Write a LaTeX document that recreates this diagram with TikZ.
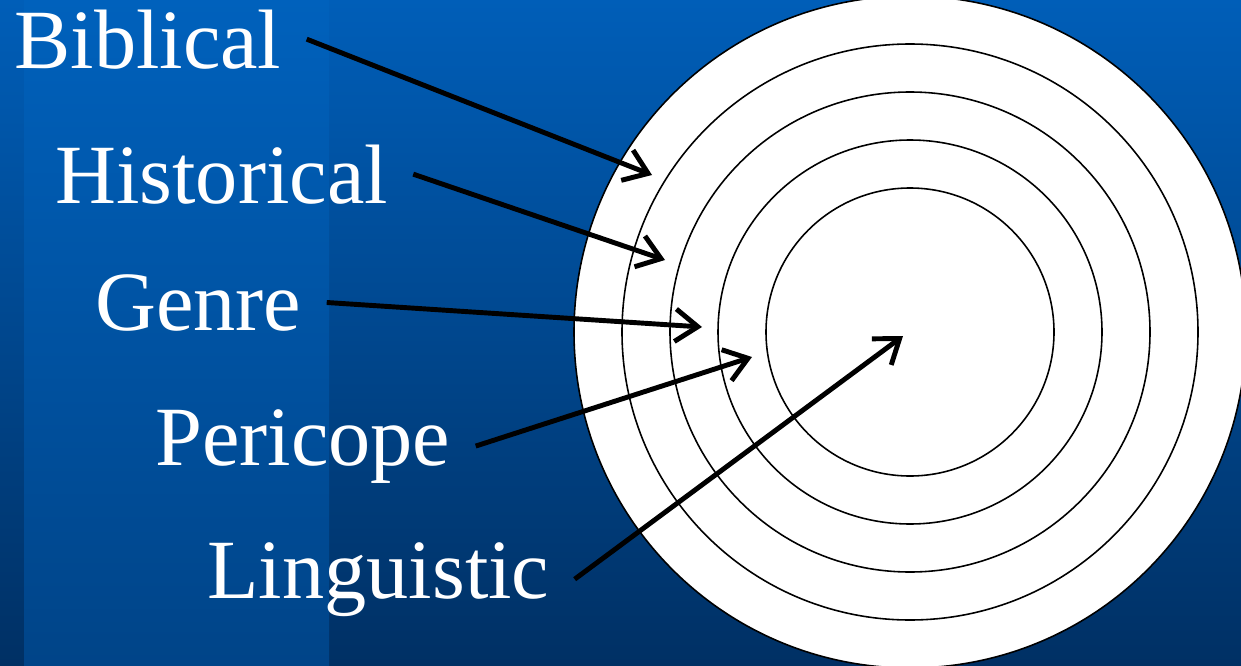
\documentclass[tikz,border=0pt]{standalone}
\usepackage{fontspec}
\setmainfont{Liberation Serif}
\usetikzlibrary{arrows.meta}
\definecolor{bgTop}{RGB}{0, 94, 184}
\definecolor{bgBottom}{RGB}{0, 48, 100}
\definecolor{bandTop}{RGB}{0, 97, 188}
\definecolor{bandBottom}{RGB}{0, 68, 136}

\begin{document}
\begin{tikzpicture}[x=0.02cm, y=-0.02cm,
        word/.style={text=white, font=\fontsize{48}{58}\selectfont, anchor=base west,
                     inner xsep=0.5cm, inner ysep=0pt},
        pointer/.style={-{Straight Barb[length=0.45cm, width=0.65cm]}, line width=2.8pt, black},
        ring/.style={draw=black, line width=0.9pt, fill=white}
    ]
        \useasboundingbox (0,0) rectangle (1241,666);
        \clip (0,0) rectangle (1241,666);
        % background and side band
        \shade[top color=bgTop, bottom color=bgBottom] (0,0) rectangle (1241,666);
        \shade[top color=bandTop, bottom color=bandBottom] (24,0) rectangle (329,666);

        % target rings
        \foreach \r in {336,288,240,192,144}
            \draw[ring] (910,332) circle[radius=\r];

        % labels
        \node[word] (biblical)   at (-11,68)  {Biblical};
        \node[word] (historical) at (30,203)  {Historical};
        \node[word] (genre)      at (70,330)  {Genre};
        \node[word] (pericope)   at (130,465) {Pericope};
        \node[word] (linguistic) at (182,598) {Linguistic};

        \coordinate (ringA) at (652,175);
        \coordinate (ringB) at (665,260);
        \coordinate (ringC) at (702,327);
        \coordinate (ringD) at (752,357);
        \coordinate (ringE) at (903,336);

        \draw[pointer] (biblical.east)   -- (ringA);
        \draw[pointer] (historical.east) -- (ringB);
        \draw[pointer] (genre.east)      -- (ringC);
        \draw[pointer] (pericope.east)   -- (ringD);
        \draw[pointer] (linguistic.east) -- (ringE);
    \end{tikzpicture}
\end{document}
